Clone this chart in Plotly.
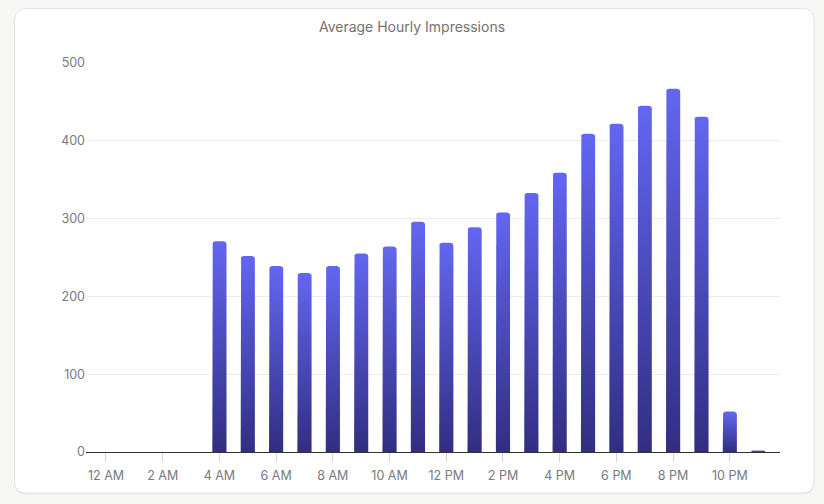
import math
import plotly.graph_objects as go

# ---- data ----
hours = list(range(24))
impressions = [0, 0, 0, 0, 271, 252, 239, 230, 239, 255, 264, 296,
               269, 289, 308, 333, 359, 409, 422, 445, 467, 431, 52, 2]
tick_hours = [0, 2, 4, 6, 8, 10, 12, 14, 16, 18, 20, 22]
tick_labels = ["12 AM", "2 AM", "4 AM", "6 AM", "8 AM", "10 AM",
               "12 PM", "2 PM", "4 PM", "6 PM", "8 PM", "10 PM"]
y_ticks = [0, 100, 200, 300, 400, 500]

W, H = 824, 504
ML, MR, MT, MB = 86, 44, 63, 52
PW, PH = W - ML - MR, H - MT - MB
XR = [-0.705, 23.77]
YR = [0, 500]
BAR_W = 0.5
RAD_PX = 3.0

px_per_x = PW / (XR[1] - XR[0])
px_per_y = PH / (YR[1] - YR[0])

fig = go.Figure()


def bar_path(h, v):
    x0, x1 = h - BAR_W / 2, h + BAR_W / 2
    rpx = min(RAD_PX, v * px_per_y)
    rx = rpx / px_per_x
    ry = rpx / px_per_y
    xs, ys = [x0], [0]
    n = 6
    for i in range(n + 1):
        a = math.pi - (math.pi / 2) * i / n
        xs.append(x0 + rx + rx * math.cos(a))
        ys.append(v - ry + ry * math.sin(a))
    for i in range(n + 1):
        a = math.pi / 2 - (math.pi / 2) * i / n
        xs.append(x1 - rx + rx * math.cos(a))
        ys.append(v - ry + ry * math.sin(a))
    xs += [x1, x0]
    ys += [0, 0]
    return xs, ys


for h, v in zip(hours, impressions):
    if v <= 0:
        continue
    xs, ys = bar_path(h, v)
    fig.add_trace(go.Scatter(
        x=xs, y=ys, mode="lines", fill="toself",
        line=dict(width=0, color="rgba(0,0,0,0)"),
        fillgradient=dict(type="vertical",
                          colorscale=[[0, "#312e81"], [1, "#6366f1"]]),
        hoverinfo="skip", showlegend=False,
    ))


# ---- card background ----
def fx(p):
    return (p - ML) / PW


def fy(p):
    return (H - MB - p) / PH


def rounded_rect(x0, y0, x1, y1, r):
    return (f"M {fx(x0 + r)},{fy(y0)} L {fx(x1 - r)},{fy(y0)} "
            f"Q {fx(x1)},{fy(y0)} {fx(x1)},{fy(y0 + r)} "
            f"L {fx(x1)},{fy(y1 - r)} Q {fx(x1)},{fy(y1)} {fx(x1 - r)},{fy(y1)} "
            f"L {fx(x0 + r)},{fy(y1)} Q {fx(x0)},{fy(y1)} {fx(x0)},{fy(y1 - r)} "
            f"L {fx(x0)},{fy(y0 + r)} Q {fx(x0)},{fy(y0)} {fx(x0 + r)},{fy(y0)} Z")


shapes = [
    dict(type="path", xref="paper", yref="paper", layer="below",
         path=rounded_rect(14.5, 9.5, 814.5, 494.5, 12),
         fillcolor="rgba(0,0,0,0.05)", line=dict(width=0)),
    dict(type="path", xref="paper", yref="paper", layer="below",
         path=rounded_rect(14.5, 8.5, 814, 493, 12),
         fillcolor="#ffffff", line=dict(color="#e4e4e2", width=1)),
]

fig.update_layout(
    width=W, height=H,
    margin=dict(l=ML, r=MR, t=MT, b=MB),
    paper_bgcolor="#f7f7f5",
    plot_bgcolor="rgba(0,0,0,0)",
    font=dict(family="Inter, sans-serif", size=12.5, color="#737373"),
    title=dict(text="Average Hourly Impressions", x=0.5, xanchor="center",
               y=1 - 27 / H, yanchor="middle",
               font=dict(family="Inter, sans-serif", size=14, color="#78716c")),
    shapes=shapes,
    showlegend=False,
    xaxis=dict(range=XR, tickmode="array", tickvals=tick_hours,
               ticktext=tick_labels, showgrid=False, zeroline=False,
               showline=True, linecolor="#333333", linewidth=1,
               ticks="outside", ticklen=9, tickcolor="#d4d4d4", tickwidth=1,
               ticklabelstandoff=3,
               tickfont=dict(size=12.5, color="#78787f"), fixedrange=True),
    yaxis=dict(range=YR, tickmode="array", tickvals=y_ticks,
               showgrid=True, gridcolor="#ececec", gridwidth=1,
               zeroline=False, showline=False, ticks="", ticklen=0,
               tickfont=dict(size=12.5, color="#78787f"), fixedrange=True),
)

fig.write_html(
    "out.html",
    config={"displayModeBar": False},
    post_script="document.body.style.margin='0';"
                "document.body.style.background='#f7f7f5';",
)
